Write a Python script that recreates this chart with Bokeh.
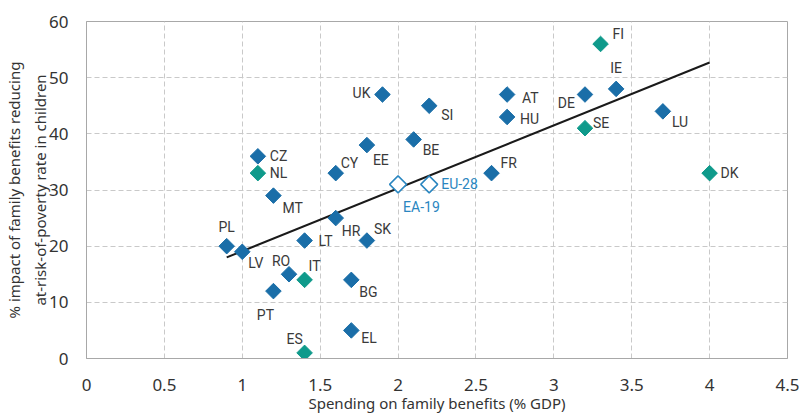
import math
from bokeh.plotting import figure
from bokeh.models import ColumnDataSource, Range1d, FixedTicker
from bokeh.core.properties import value
from bokeh.embed import file_html
from bokeh.resources import INLINE

# ---- data ----
countries = ["PL", "LV", "PT", "RO", "IT", "ES", "LT", "CZ", "NL", "MT", "HR", "CY",
             "SK", "BG", "EL", "EE", "UK", "SI", "BE", "AT", "HU", "FR", "DE", "IE",
             "SE", "FI", "LU", "DK"]
spending = [0.9, 1.0, 1.2, 1.3, 1.4, 1.4, 1.4, 1.1, 1.1, 1.2, 1.6, 1.6,
            1.8, 1.7, 1.7, 1.8, 1.9, 2.2, 2.1, 2.7, 2.7, 2.6, 3.2, 3.4,
            3.2, 3.3, 3.7, 4.0]
impact = [20, 19, 12, 15, 14, 1, 21, 36, 33, 29, 25, 33,
          21, 14, 5, 38, 47, 45, 39, 47, 43, 33, 47, 48,
          41, 56, 44, 33]
teal_group = ["IT", "ES", "NL", "SE", "FI", "DK"]

aggregates = ["EA-19", "EU-28"]
agg_spending = [2.0, 2.2]
agg_impact = [31, 31]

trend_x = [0.9, 4.0]
trend_y = [18.0, 52.7]

x_ticks = [0, 0.5, 1, 1.5, 2, 2.5, 3, 3.5, 4, 4.5]
x_tick_labels = ["0", "0.5", "1", "1.5", "2", "2.5", "3", "3.5", "4", "4.5"]
y_ticks = [0, 10, 20, 30, 40, 50, 60]

x_title = "Spending on family benefits (% GDP)"
y_title = "% impact of family benefits reducing\nat-risk-of-poverty rate in children"

# ---- label placement (screen px offsets, alignment) ----
placement = {
    "UK": (-12, -2, "right"), "CZ": (12, 0, "left"), "NL": (12, 0, "left"),
    "MT": (9, 12, "left"), "CY": (5, -10, "left"), "EE": (6, 15, "left"),
    "FI": (12, -10, "left"), "IE": (0, -21, "center"), "AT": (15, 3, "left"),
    "HU": (13, 2, "left"), "DE": (-10, 8, "right"), "SE": (8, -5, "left"),
    "LU": (9, 11, "left"), "DK": (11, 0, "left"), "SI": (12, 9, "left"),
    "BE": (9, 11, "left"), "FR": (9, -10, "left"), "PL": (0, -19, "center"),
    "LV": (6, 11, "left"), "LT": (14, 0, "left"), "HR": (6, 13, "left"),
    "SK": (7, -12, "left"), "RO": (-8, -13, "center"), "IT": (4, -14, "left"),
    "PT": (-8, 24, "center"), "BG": (8, 12, "left"), "ES": (-10, -14, "center"),
    "EL": (10, 8, "left"), "EA-19": (5, 23, "left"), "EU-28": (12, 0, "left"),
}

BLUE = "#1a6ea8"
TEAL = "#0f9a8b"
AGG = "#2a86c0"
TXT = "#3a3a3a"
GRID = "#c9c9c9"
FRAME = "#a8a8a8"
LABEL_FONT = value("Roboto")
AXIS_FONT = "Noto Sans"

p = figure(width=799, height=416, output_backend="svg", toolbar_location=None,
           x_range=Range1d(0, 4.5), y_range=Range1d(0, 60),
           min_border_left=86, min_border_right=12, min_border_top=21,
           min_border_bottom=58)
p.background_fill_color = "white"
p.border_fill_color = "white"
p.outline_line_color = FRAME
p.outline_line_width = 1

# grid
for g in (p.xgrid, p.ygrid):
    g.grid_line_color = GRID
    g.grid_line_dash = "5 3"
    g.grid_line_width = 1
p.xaxis.ticker = FixedTicker(ticks=x_ticks)
p.yaxis.ticker = FixedTicker(ticks=y_ticks)
p.xaxis.major_label_overrides = {t: l for t, l in zip(x_ticks, x_tick_labels)}

for ax in (p.xaxis, p.yaxis):
    ax.axis_line_color = FRAME
    ax.major_tick_line_color = None
    ax.minor_tick_line_color = None
    ax.major_label_text_font = AXIS_FONT
    ax.major_label_text_font_size = "17px"
    ax.major_label_text_color = "#333333"
    ax.axis_label_text_font = AXIS_FONT
    ax.axis_label_text_font_size = "15px"
    ax.axis_label_text_font_style = "normal"
    ax.axis_label_text_color = "#333333"

p.xaxis.axis_label = x_title
p.xaxis.major_label_standoff = 14
p.xaxis.axis_label_standoff = -1
p.yaxis.axis_label = y_title
p.yaxis.axis_label_text_line_height = 1.3
p.yaxis.major_label_standoff = 12
p.yaxis.axis_label_standoff = -4

# trend line
p.line(trend_x, trend_y, line_color="#1a1a1a", line_width=2)

# country markers
colors = [TEAL if c in teal_group else BLUE for c in countries]
src = ColumnDataSource(dict(x=spending, y=impact, c=colors, t=countries,
                            dx=[placement[c][0] for c in countries],
                            dy=[placement[c][1] for c in countries],
                            al=[placement[c][2] for c in countries]))
p.scatter("x", "y", source=src, marker="square", angle=math.pi / 4, size=11,
          fill_color="c", line_color="c", line_width=1)

# aggregates
asrc = ColumnDataSource(dict(x=agg_spending, y=agg_impact, t=aggregates,
                             dx=[placement[c][0] for c in aggregates],
                             dy=[placement[c][1] for c in aggregates],
                             al=[placement[c][2] for c in aggregates]))
p.scatter("x", "y", source=asrc, marker="square", angle=math.pi / 4, size=12,
          fill_color="white", line_color=AGG, line_width=1.5)

p.text("x", "y", text="t", source=src, x_offset="dx", y_offset="dy",
       text_align="al", text_baseline="middle", text_font=LABEL_FONT,
       text_font_size="14px", text_color=TXT)
p.text("x", "y", text="t", source=asrc, x_offset="dx", y_offset="dy",
       text_align="al", text_baseline="middle", text_font=LABEL_FONT,
       text_font_size="14px", text_color=AGG)

open("out.html", "w").write(file_html(p, INLINE))
